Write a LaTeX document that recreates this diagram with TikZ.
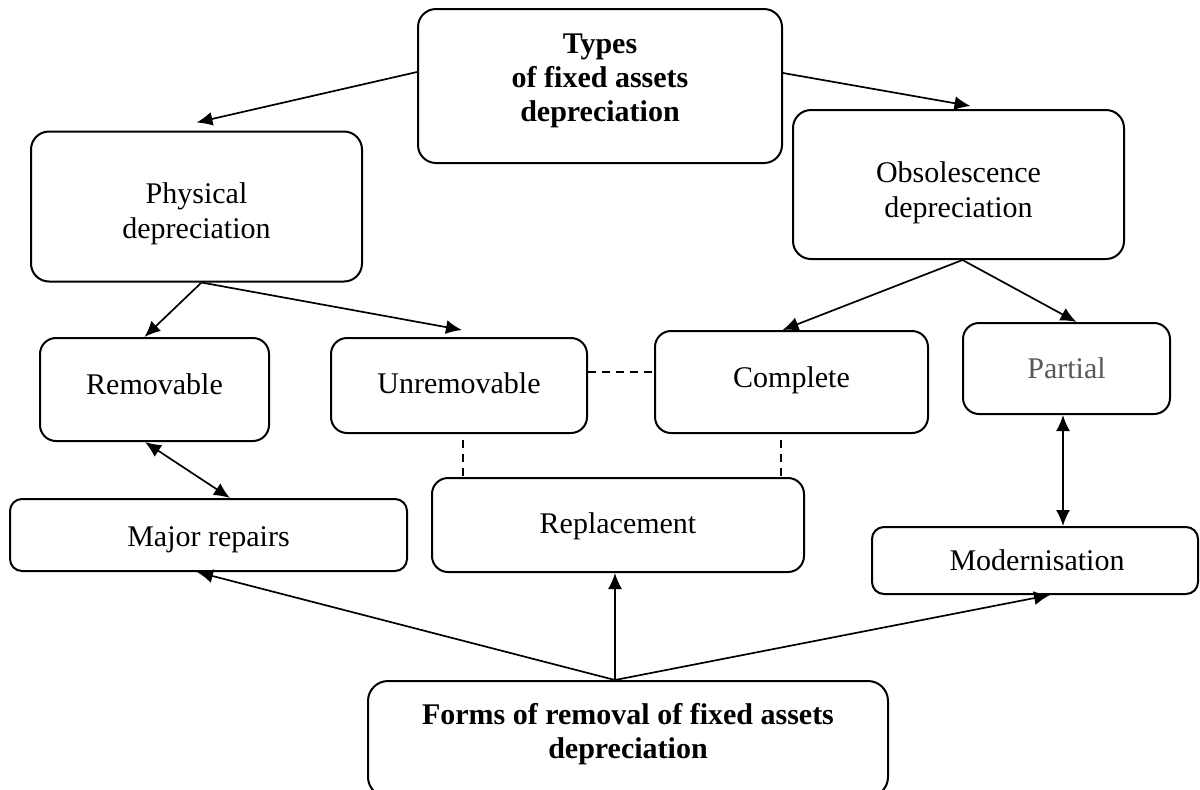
\documentclass[tikz,border=0pt]{standalone}
\usepackage{fontspec}
\setmainfont{Liberation Serif}
\usetikzlibrary{arrows.meta}
\definecolor{partialgray}{HTML}{595959}
\begin{document}
\begin{tikzpicture}[x=0.5pt,y=-0.5pt,
  box/.style={draw, line width=1pt, rounded corners=9pt, inner sep=0pt},
  txt/.style={align=center, font=\fontsize{15}{17.5}\selectfont, inner sep=0pt},
  btxt/.style={align=center, font=\fontsize{15}{17}\selectfont\bfseries, inner sep=0pt},
  conn/.style={line width=0.85pt, -{Latex[length=8pt,width=7pt]}},
  twoway/.style={line width=0.85pt, {Latex[length=8pt,width=7pt]}-{Latex[length=8pt,width=7pt]}},
  dashline/.style={line width=0.85pt, dash pattern=on 4pt off 3pt}
]
\useasboundingbox (0,0) rectangle (1200,789);

\node[box, minimum width=182pt, minimum height=77pt,
  label={[btxt, yshift=2.5pt]center:{Types\\of fixed assets\\depreciation}}] (types) at (600,86) {};
\node[box, minimum width=165.5pt, minimum height=75pt,
  label={[txt, yshift=-3.75pt]center:{Physical\\depreciation}}] (phys) at (196.5,206.5) {};
\node[box, minimum width=165.5pt, minimum height=74.5pt,
  label={[txt, yshift=-4.25pt]center:{Obsolescence\\depreciation}}] (obs) at (958.5,184.5) {};
\node[box, rounded corners=8pt, minimum width=114.5pt, minimum height=51.5pt,
  label={[txt, yshift=2.75pt]center:{Removable}}] (remov) at (154.5,389.5) {};
\node[box, rounded corners=8pt, minimum width=128pt, minimum height=47.5pt,
  label={[txt, yshift=1.25pt]center:{Unremovable}}] (unrem) at (459,385.5) {};
\node[box, rounded corners=8pt, minimum width=136.5pt, minimum height=51pt,
  label={[txt, yshift=1pt]center:{Complete}}] (compl) at (791.5,382) {};
\node[box, rounded corners=8pt, minimum width=103.5pt, minimum height=45.5pt,
  label={[txt, text=partialgray]center:{Partial}}] (part) at (1066.5,368.5) {};
\node[box, rounded corners=6pt, minimum width=198.5pt, minimum height=36pt,
  label={[txt, yshift=-2.5pt]center:{Major repairs}}] (major) at (208.5,535) {};
\node[box, rounded corners=8pt, minimum width=186pt, minimum height=47pt,
  label={[txt, yshift=-0.5pt]center:{Replacement}}] (repl) at (618,525) {};
\node[box, rounded corners=6pt, minimum width=163pt, minimum height=33.5pt,
  label={[txt, xshift=1pt]center:{Modernisation}}] (modern) at (1035,560.5) {};
\node[box, rounded corners=10pt, minimum width=260pt, minimum height=58pt,
  label={[btxt, yshift=2.5pt]center:{Forms of removal of fixed assets\\depreciation}}] (forms) at (628,739) {};

% connectors
\draw[conn] ([yshift=7pt]types.west) -- ([yshift=4pt]phys.north);
\draw[conn] ([yshift=6.5pt]types.east) -- ([xshift=6pt,yshift=1.5pt]obs.north);
\draw[conn] ([xshift=2.5pt]phys.south) -- ([xshift=-5pt]remov.north);
\draw[conn] ([xshift=2.5pt]phys.south) -- ([xshift=1.5pt,yshift=3.5pt]unrem.north);
\draw[conn] ([xshift=2pt]obs.south) -- ([xshift=-4.5pt]compl.north);
\draw[conn] ([xshift=2pt]obs.south) -- ([xshift=5pt]part.north);

\draw[dashline] ([yshift=6.75pt]unrem.east) -- ([yshift=5pt]compl.west);
\coordinate (d1) at ([xshift=2pt,yshift=-3pt]unrem.south);
\draw[dashline] (d1) -- (d1 |- repl.north);
\coordinate (d2) at ([xshift=-5.25pt,yshift=-3pt]compl.south);
\draw[dashline] (d2) -- (d2 |- repl.north);

\draw[twoway] ([xshift=-4.75pt]remov.south) -- ([xshift=10.75pt]major.north);
\coordinate (p1) at ([xshift=-1.75pt]part.south);
\draw[twoway] (p1) -- (p1 |- modern.north);

\coordinate (f0) at ([xshift=-6.5pt]forms.north);
\draw[conn] (f0) -- ([xshift=-5.75pt]major.south);
\draw[conn] (f0) -- (f0 |- repl.south);
\draw[conn] (f0) -- ([xshift=7.5pt]modern.south);
\end{tikzpicture}
\end{document}
